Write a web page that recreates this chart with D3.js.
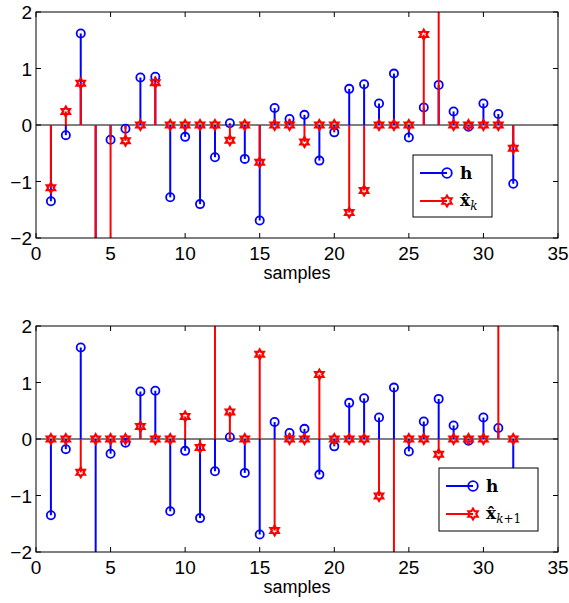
<!DOCTYPE html>
<html><head><meta charset="utf-8">
<script src="https://cdn.jsdelivr.net/npm/d3@7"></script>
<style>body{margin:0;background:#fff}svg{display:block}</style>
</head><body>
<script>
const samples = d3.range(1, 33);
const h = [-1.35,-0.18,1.62,-2.4,-0.26,-0.065,0.84,0.855,-1.28,-0.21,-1.40,-0.57,0.03,-0.60,-1.69,0.30,
           0.105,0.18,-0.63,-0.13,0.64,0.72,0.38,0.91,-0.22,0.31,0.71,0.24,-0.03,0.38,0.195,-1.04];
const xk = [-1.11,0.24,0.74,-2.5,-2.3,-0.28,0,0.75,0,0,0,0,-0.27,0,-0.66,0,
            0,-0.30,0,0,-1.55,-1.16,0,0,0,1.60,2.4,0,0,0,0,-0.41];
const xk1 = [0,0,-0.59,0,0,0,0.22,0,0,0.40,-0.15,2.6,0.48,0,1.50,-1.62,
             0,0,1.14,0,0,0,-1.01,-2.5,0,0,-0.27,0,0,0,2.3,0];
const xTicks = [0,5,10,15,20,25,30,35];
const yTicks = [-2,-1,0,1,2];
const xLabel = "samples";

const W = 569, H = 603;
const svg = d3.select("body").append("svg").attr("width", W).attr("height", H)
  .style("font-family", "'Liberation Sans', Arial, sans-serif");

function hexagram(r) {
  const ri = r * 0.577;
  const pts = [];
  for (let i = 0; i < 12; i++) {
    const a = -Math.PI / 2 + i * Math.PI / 6;
    const rr = i % 2 === 0 ? r : ri;
    pts.push([rr * Math.cos(a), rr * Math.sin(a)]);
  }
  return "M" + pts.map(p => p[0].toFixed(2) + "," + p[1].toFixed(2)).join("L") + "Z";
}
const star = hexagram(4.8);

function panel(id, top, redVals, legendBox, subLabel) {
  const x = d3.scaleLinear().domain([0, 35]).range([36, 558]);
  const y = d3.scaleLinear().domain([-2, 2]).range([top + 226, top]);
  const g = svg.append("g");
  g.append("clipPath").attr("id", id).append("rect")
    .attr("x", 36).attr("y", top).attr("width", 522).attr("height", 226);

  const ax = g.append("g");
  xTicks.forEach(t => {
    ax.append("line").attr("x1", x(t)).attr("x2", x(t)).attr("y1", y(-2)).attr("y2", y(-2) - 5).attr("stroke", "#000");
    ax.append("line").attr("x1", x(t)).attr("x2", x(t)).attr("y1", y(2)).attr("y2", y(2) + 5).attr("stroke", "#000");
    ax.append("text").attr("x", x(t)).attr("y", y(-2) + 22).attr("text-anchor", "middle")
      .attr("font-size", 19).text(t);
  });
  yTicks.forEach(t => {
    ax.append("line").attr("x1", 36).attr("x2", 41).attr("y1", y(t)).attr("y2", y(t)).attr("stroke", "#000");
    ax.append("line").attr("x1", 558).attr("x2", 553).attr("y1", y(t)).attr("y2", y(t)).attr("stroke", "#000");
    ax.append("text").attr("x", 32).attr("y", y(t) + 7).attr("text-anchor", "end")
      .attr("font-size", 19).text(t < 0 ? "\u2212" + Math.abs(t) : t);
  });
  g.append("text").attr("x", 297).attr("y", y(-2) + 41).attr("text-anchor", "middle")
    .attr("font-size", 18).text(xLabel);

  const c = g.append("g").attr("clip-path", `url(#${id})`);
  c.append("line").attr("x1", 36).attr("x2", 558).attr("y1", y(0)).attr("y2", y(0))
    .attr("stroke", "#000").attr("stroke-width", 1);

  c.selectAll(".hs").data(samples).enter().append("line")
    .attr("x1", d => x(d)).attr("x2", d => x(d)).attr("y1", y(0)).attr("y2", d => y(h[d - 1]))
    .attr("stroke", "#0000ff").attr("stroke-width", 2);
  c.selectAll(".hm").data(samples).enter().append("circle")
    .attr("cx", d => x(d)).attr("cy", d => y(h[d - 1])).attr("r", 4.1)
    .attr("fill", "none").attr("stroke", "#0000ff").attr("stroke-width", 1.8);

  c.selectAll(".rs").data(samples).enter().append("line")
    .attr("x1", d => x(d)).attr("x2", d => x(d)).attr("y1", y(0)).attr("y2", d => y(redVals[d - 1]))
    .attr("stroke", "#ff0000").attr("stroke-width", 2);
  c.selectAll(".rm").data(samples).enter().append("path")
    .attr("d", star).attr("transform", d => `translate(${x(d)},${y(redVals[d - 1])})`)
    .attr("fill", "none").attr("stroke", "#ff0000").attr("stroke-width", 2.2);

  g.append("rect").attr("x", 36).attr("y", top).attr("width", 522).attr("height", 226)
    .attr("fill", "none").attr("stroke", "#000").attr("stroke-width", 1);

  const [lx, ly, lw, lh] = legendBox;
  const L = g.append("g");
  L.append("rect").attr("x", lx).attr("y", ly).attr("width", lw).attr("height", lh)
    .attr("fill", "#fff").attr("stroke", "#000").attr("stroke-width", 1);
  const r1 = ly + 18, r2 = ly + 46;
  L.append("line").attr("x1", lx + 7).attr("x2", lx + 34).attr("y1", r1).attr("y2", r1)
    .attr("stroke", "#0000ff").attr("stroke-width", 2);
  L.append("circle").attr("cx", lx + 34).attr("cy", r1).attr("r", 4.8)
    .attr("fill", "none").attr("stroke", "#0000ff").attr("stroke-width", 1.8);
  L.append("line").attr("x1", lx + 7).attr("x2", lx + 34).attr("y1", r2).attr("y2", r2)
    .attr("stroke", "#ff0000").attr("stroke-width", 2);
  L.append("path").attr("d", hexagram(5.5)).attr("transform", `translate(${lx + 34},${r2})`)
    .attr("fill", "none").attr("stroke", "#ff0000").attr("stroke-width", 2);
  const tf = "'DejaVu Serif', 'Liberation Serif', serif";
  L.append("text").attr("x", lx + 47).attr("y", r1 + 6).attr("font-family", tf)
    .attr("font-weight", "bold").attr("font-size", 17).text("h");
  const t2 = L.append("text").attr("x", lx + 47).attr("y", r2 + 5).attr("font-family", tf).attr("font-size", 17);
  t2.append("tspan").attr("font-weight", "bold").text("x\u0302");
  t2.append("tspan").attr("font-style", "italic").attr("font-size", 12).attr("dy", 4).text(subLabel[0]);
  if (subLabel.length > 1)
    t2.append("tspan").attr("font-size", 12).text(subLabel.slice(1));
}

panel("clipA", 12, xk, [413, 155, 79, 62], "k");
panel("clipB", 326, xk1, [439, 468, 99, 63], "k+1");
</script>
</body></html>
